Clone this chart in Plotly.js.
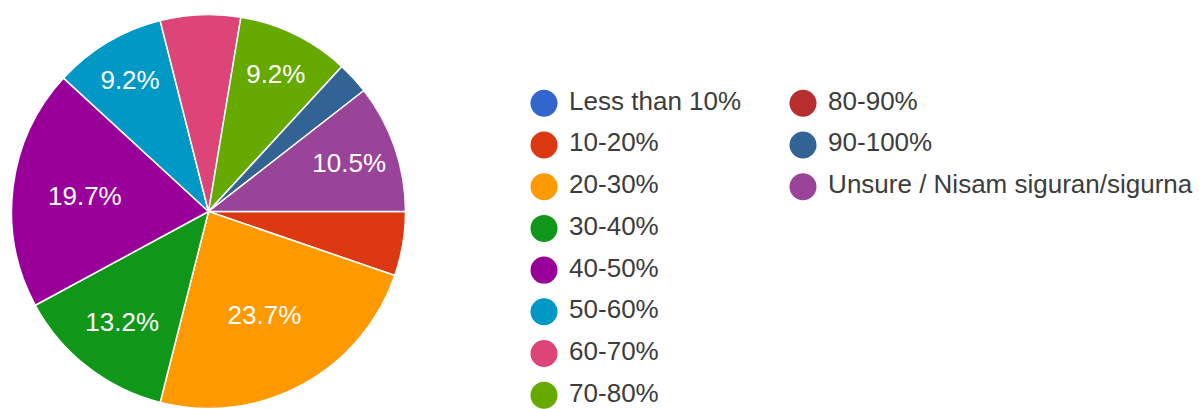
<!DOCTYPE html>
<html>
<head>
<meta charset="utf-8">
<script src="https://cdn.plot.ly/plotly-3.0.1.min.js"></script>
<style>
  html, body { margin: 0; padding: 0; background: #ffffff; }
  #chart { width: 1200px; height: 409px; }
</style>
</head>
<body>
<div id="chart"></div>
<script>
// ---- data ----
const categories = [
  "Less than 10%", "10-20%", "20-30%", "30-40%", "40-50%", "50-60%",
  "60-70%", "70-80%", "80-90%", "90-100%", "Unsure / Nisam siguran/sigurna"
];
const responses = [0, 4, 18, 10, 15, 7, 5, 7, 0, 2, 8];

// ---- style ----
const sliceColors = [
  "#3366cc", "#dc3912", "#ff9900", "#109618", "#990099", "#0099c6",
  "#dd4477", "#66aa00", "#b82e2e", "#316395", "#994499"
];
const FONT = "Arial, 'Liberation Sans', sans-serif";
const ROWS_PER_COLUMN = 8;
const LABEL_THRESHOLD = 0.08;   // slices smaller than this get no label

const total = responses.reduce((a, b) => a + b, 0);
const sliceText = responses.map(v => (v / total >= LABEL_THRESHOLD ? "%{percent:.1%}" : ""));

const pie = {
  type: "pie",
  labels: categories,
  values: responses,
  sort: false,
  direction: "clockwise",
  rotation: 90,
  marker: { colors: sliceColors, line: { color: "#ffffff", width: 1.5 } },
  texttemplate: sliceText,
  textposition: "inside",
  insidetextorientation: "horizontal",
  textfont: { family: FONT, size: 26, color: "#ffffff" },
  domain: { x: [0.0096, 0.3379], y: [0.0012, 0.9645] },
  showlegend: false,
  hoverinfo: "label+percent"
};

// legend drawn as a scatter of coloured circles, column-major
const legendTrace = {
  type: "scatter",
  mode: "markers+text",
  x: categories.map((_, i) => Math.floor(i / ROWS_PER_COLUMN)),
  y: categories.map((_, i) => i % ROWS_PER_COLUMN),
  text: categories,
  texttemplate: "\u00a0%{text}",
  textposition: "middle right",
  textfont: { family: FONT, size: 26, color: "#3c3c3c" },
  marker: { color: sliceColors, size: 27, line: { width: 0 } },
  cliponaxis: false,
  showlegend: false,
  hoverinfo: "skip"
};

const layout = {
  width: 1200,
  height: 409,
  margin: { l: 0, r: 0, t: 0, b: 0, pad: 0 },
  paper_bgcolor: "#ffffff",
  plot_bgcolor: "rgba(0,0,0,0)",
  showlegend: false,
  xaxis: { visible: false, range: [-2.1004, 2.5328], domain: [0, 1], fixedrange: true },
  yaxis: { visible: false, range: [7.331, -2.477], domain: [0, 1], fixedrange: true },
  font: { family: FONT }
};

Plotly.newPlot("chart", [pie, legendTrace], layout, { displayModeBar: false, staticPlot: true });
</script>
</body>
</html>
